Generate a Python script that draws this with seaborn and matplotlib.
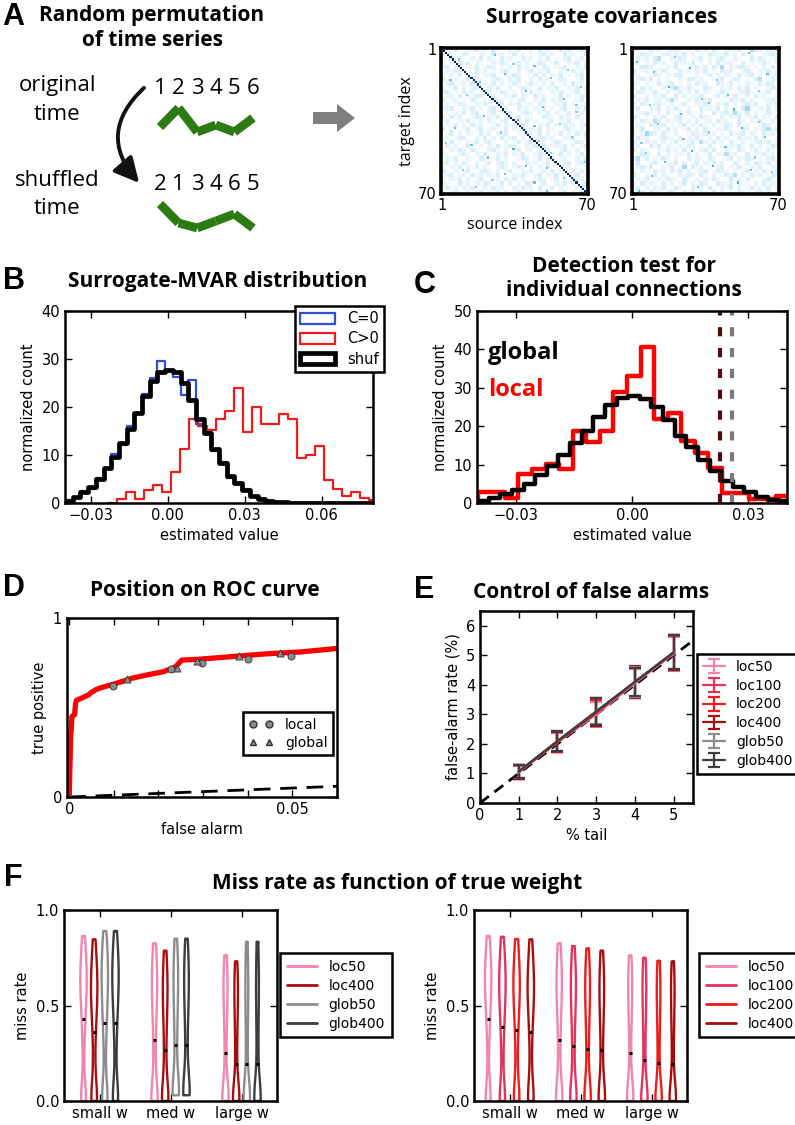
import numpy as np
import pandas as pd
import matplotlib
matplotlib.use('Agg')
import matplotlib.pyplot as plt
import seaborn as sns
from matplotlib.patches import FancyArrowPatch, FancyArrow, Patch
from matplotlib.lines import Line2D
from matplotlib.colors import LinearSegmentedColormap

# ---------------------------------------------------------------- data
# Panel A: toy time series
time_points = [1, 2, 3, 4, 5, 6]
series_values = [5, 24, 0, 7, 0, 14]
shuffled_order = [2, 1, 3, 4, 6, 5]

# Panel A: surrogate covariance matrices (35x35 coarse levels) + specks on the 70x70 grid
cov_orig_rows = [
    "12030021312031002130120312003120132", "30201320021031201302010231200312013",
    "01312002130210312003120213010230120", "20103130210021320130201320130021302",
    "13020021301320102031201032012300213", "02131200312010231020130213002103120",
    "10203021301230021320103120213010231", "31020130210023102130020312013200130",
    "02301213002130201320131020301203120", "10130202310213002013210302130021302",
    "23010312002301320102031200213102301", "01203021330120021302103120013020132",
    "30120103102031201023002130213100230", "02013200213102302130120310021302012",
    "12300213010230120031202130102300213", "01021302300130213002310213020130121",
    "20312001320213002130210032103120301", "13002131020310230120312001302130020",
    "02130203120013021203100213020312013", "30210130230120030213021302100231020",
    "01302021031202130010321302013020313", "12013300213020312302010231200213002",
    "20301021302310020130231020132001320", "03120130020213013200213030121302013",
    "10213203100231020130120213002310201", "21002310213002130213001320213020130",
    "02130021032013020013201302301200213", "13020310201302310200312013020130231",
    "00213021302001320131020213003120102", "31020130023102013002130120312003120",
    "02301203120213000213102302130210301", "10213020130012031302001320130203120",
    "21003120213201302010320130021302013", "03120213002031200213120301302010230",
    "10231020130213020130020213012302130",
]
cov_shuf_rows = [
    "21003120132201031203102213005320213", "10321002312130201032113020312001231",
    "03120350021320113020231021003132012", "22010312003121301020312210302013102",
    "01332010213002131203160213320102031", "30120213100312021301032200131021302",
    "12001320213310020131202103123010213", "02313020100213312002130132010350121",
    "21020131230102031200321301021031320", "10312002135213100321021203130200132",
    "03201310201312030210132001231021301", "31020213003120213101302031020312002",
    "02130120352002131230010321302001231", "20310231020130021320213010231300213",
    "13002130213102003121302010361021302", "01231020310213102003123152130201310",
    "32010213002310213210030213012302103", "10320530211302030120312003102131020",
    "02103213010230213102013203120013201", "21300120312013020310213100320213513",
    "10263203102001321302010312302103120", "03120013210302131020312003121302001",
    "21031202013102305213120310201231302", "12003130210213201031020213103020132",
    "30210021312030102313002103201310210", "01321030201213020130215120030213120",
    "25130213102003121032001302132010231", "13002310213020130213120031020321302",
    "02313002130160312010230213102130021", "10200312031302012301321020130213103",
    "31021302100213203102013250203120132", "02130021321031020213100312031002310",
    "20312103020130213200321302110203121", "13020213013200312031021302013120302",
    "01203120231021302103020013210231200",
]
cov_orig_specks = [(3, 25, 8), (5, 8, 7), (8, 44, 8), (10, 60, 7), (12, 30, 8), (14, 52, 7),
                   (16, 18, 8), (18, 66, 7), (20, 40, 9), (22, 12, 7), (24, 58, 8), (26, 26, 7),
                   (28, 48, 8), (30, 64, 7), (32, 20, 8), (34, 36, 9), (36, 56, 7), (38, 6, 8),
                   (40, 28, 7), (42, 62, 8), (44, 46, 7), (46, 14, 8), (48, 34, 9), (50, 52, 7),
                   (52, 22, 8), (54, 68, 7), (56, 40, 8), (58, 10, 7), (60, 30, 8), (62, 58, 7),
                   (64, 44, 8), (66, 16, 7), (68, 50, 8), (7, 34, 7), (15, 4, 8), (27, 64, 7),
                   (37, 44, 8), (45, 2, 7), (57, 50, 8), (63, 24, 7)]
cov_shuf_specks = [(6, 2, 8), (9, 27, 9), (12, 64, 8), (15, 40, 7), (18, 17, 9), (20, 60, 7),
                   (24, 33, 8), (27, 8, 7), (29, 48, 9), (31, 23, 8), (33, 69, 7), (36, 12, 8),
                   (38, 52, 9), (40, 36, 7), (42, 63, 8), (45, 4, 7), (47, 44, 8), (49, 28, 9),
                   (52, 58, 7), (54, 15, 8), (56, 38, 9), (59, 66, 7), (61, 9, 8), (64, 50, 9),
                   (66, 31, 7), (68, 3, 8), (69, 46, 7), (2, 55, 8), (4, 20, 7), (11, 10, 8),
                   (22, 45, 8), (35, 60, 7), (43, 24, 8), (50, 6, 7), (58, 56, 8), (26, 36, 8)]
cov_diag_level = 15
matrix_ticklabels = ['1', '70']

# Panel B: histograms (normalized counts)
null_bin_start, null_bin_width = -0.04, 0.003
shuf_counts = [0.5, 1.2, 2.3, 3.3, 4.9, 7.3, 9.6, 12.5, 15.5, 18.8, 22.3, 25.5, 27.3, 27.8,
               27.2, 25.0, 21.5, 17.5, 14.5, 11.3, 8.3, 5.6, 4.2, 2.8, 1.5, 0.9, 0.5, 0.3,
               0.15, 0.1, 0.05, 0.03, 0.02, 0.01, 0.0, 0.0, 0.0, 0.0, 0.0, 0.0]
c0_counts = [0.6, 1.0, 2.6, 3.0, 5.3, 7.0, 10.2, 12.0, 16.0, 18.5, 22.8, 26.0, 29.6, 27.6,
             26.2, 22.6, 25.6, 16.5, 14.8, 10.8, 8.6, 5.3, 4.0, 3.0, 1.4, 0.9, 0.4, 0.2,
             0.1, 0.05, 0.0, 0.0, 0.0, 0.0, 0.0, 0.0, 0.0, 0.0, 0.0, 0.0]
cpos_bin_start, cpos_bin_width = -0.0232, 0.0035
cpos_counts = [0.0, 0.9, 2.2, 0.9, 2.8, 3.7, 2.2, 6.5, 11.2, 17.6, 16.0, 15.2, 17.4, 19.2,
               24.0, 14.7, 19.9, 16.4, 16.4, 18.6, 17.6, 9.4, 10.1, 11.9, 4.8, 3.0, 1.5,
               2.2, 1.1, 0.6]
b_xticks = [-0.03, 0.0, 0.03, 0.06]
b_xticklabels = ['\u22120.03', '0.00', '0.03', '0.06']
b_yticks = [0, 10, 20, 30, 40]

# Panel C
local_bin_start, local_bin_width = -0.0433, 0.0035
local_counts = [1.4, 2.9, 2.9, 1.4, 7.5, 8.8, 10.1, 8.8, 18.8, 15.9, 18.8, 28.9, 33.1,
                40.5, 21.8, 23.5, 16.1, 13.1, 9.2, 2.7, 2.7, 1.1, 1.1, 1.8]
thresh_local = 0.0228
thresh_global = 0.0258
c_xticks = [-0.03, 0.0, 0.03]
c_xticklabels = ['\u22120.03', '0.00', '0.03']
c_yticks = [0, 10, 20, 30, 40, 50]

# Panel D: ROC
roc_fa = [0, 0.0003, 0.0004, 0.0005, 0.0006, 0.0012, 0.0014, 0.0016, 0.0030, 0.0043, 0.0050,
          0.0060, 0.0070, 0.0099, 0.0143, 0.0180, 0.0211, 0.0237, 0.0245, 0.0252, 0.0293,
          0.0368, 0.0442, 0.0517, 0.0600]
roc_tp = [0, 0.34, 0.36, 0.40, 0.45, 0.46, 0.52, 0.54, 0.555, 0.57, 0.585, 0.60, 0.61, 0.63,
          0.665, 0.685, 0.70, 0.725, 0.745, 0.765, 0.77, 0.785, 0.80, 0.81, 0.83]
chance_fa = [0, 0.06]
chance_tp = [0, 0.06]
local_fa = [0.0099, 0.0227, 0.0297, 0.0401, 0.0496]
local_tp = [0.619, 0.713, 0.750, 0.769, 0.788]
global_fa = [0.0129, 0.0242, 0.0287, 0.0381, 0.0472]
global_tp = [0.662, 0.719, 0.762, 0.788, 0.803]
d_xticks = [0, 0.01, 0.02, 0.03, 0.04, 0.05, 0.06]
d_xticklabels = ['0', '', '', '', '', '0.05', '']

# Panel E: false-alarm control
tail_pct = [1, 2, 3, 4, 5]
e_methods = ['loc50', 'loc100', 'loc200', 'loc400', 'glob50', 'glob400']
fa_rate = {
    'loc50':   [1.04, 2.05, 3.00, 4.05, 5.05],
    'loc100':  [1.05, 2.06, 3.04, 4.08, 5.07],
    'loc200':  [1.05, 2.07, 3.05, 4.10, 5.09],
    'loc400':  [1.06, 2.07, 3.08, 4.10, 5.10],
    'glob50':  [1.06, 2.10, 3.10, 4.10, 5.10],
    'glob400': [1.07, 2.10, 3.10, 4.10, 5.10],
}
fa_err = {
    'loc50':   [0.22, 0.33, 0.42, 0.50, 0.57],
    'loc100':  [0.23, 0.34, 0.44, 0.52, 0.58],
    'loc200':  [0.24, 0.35, 0.45, 0.52, 0.60],
    'loc400':  [0.24, 0.35, 0.46, 0.53, 0.60],
    'glob50':  [0.23, 0.33, 0.44, 0.50, 0.58],
    'glob400': [0.23, 0.33, 0.45, 0.48, 0.58],
}
identity_x = [0, 5.5]
identity_y = [0, 5.5]

# Panel F: miss rates
weight_cats = ['small w', 'med w', 'large w']
miss_samples = {
    ('loc50', 'small w'):   [0, 0, 0, 0.02, 0.30, 0.42, 0.50, 0.55, 0.60, 0.64, 0.68, 0.72, 0.78, 0.864],
    ('loc100', 'small w'):  [0, 0, 0, 0.02, 0.25, 0.38, 0.46, 0.52, 0.57, 0.62, 0.66, 0.71, 0.77, 0.860],
    ('loc200', 'small w'):  [0, 0, 0, 0.03, 0.22, 0.36, 0.45, 0.51, 0.56, 0.61, 0.65, 0.70, 0.76, 0.848],
    ('loc400', 'small w'):  [0, 0, 0, 0.03, 0.20, 0.35, 0.44, 0.50, 0.55, 0.60, 0.64, 0.69, 0.75, 0.846],
    ('glob50', 'small w'):  [0, 0, 0, 0.05, 0.28, 0.40, 0.48, 0.54, 0.60, 0.65, 0.70, 0.75, 0.80, 0.890],
    ('glob400', 'small w'): [0, 0, 0, 0.04, 0.27, 0.40, 0.49, 0.55, 0.60, 0.65, 0.70, 0.74, 0.80, 0.890],
    ('loc50', 'med w'):     [0, 0, 0, 0, 0.02, 0.20, 0.35, 0.45, 0.52, 0.58, 0.63, 0.68, 0.74, 0.825],
    ('loc100', 'med w'):    [0, 0, 0, 0, 0.02, 0.18, 0.32, 0.42, 0.50, 0.56, 0.61, 0.66, 0.72, 0.811],
    ('loc200', 'med w'):    [0, 0, 0, 0, 0.03, 0.16, 0.30, 0.40, 0.48, 0.54, 0.60, 0.65, 0.71, 0.799],
    ('loc400', 'med w'):    [0, 0, 0, 0, 0.03, 0.15, 0.28, 0.39, 0.47, 0.53, 0.59, 0.64, 0.70, 0.787],
    ('glob50', 'med w'):    [0.03, 0.03, 0.03, 0.04, 0.06, 0.20, 0.33, 0.43, 0.51, 0.58, 0.64, 0.70, 0.76, 0.850],
    ('glob400', 'med w'):   [0.03, 0.03, 0.03, 0.04, 0.06, 0.19, 0.33, 0.44, 0.52, 0.58, 0.64, 0.70, 0.76, 0.850],
    ('loc50', 'large w'):   [0, 0, 0, 0, 0, 0.03, 0.20, 0.35, 0.45, 0.52, 0.58, 0.63, 0.69, 0.762],
    ('loc100', 'large w'):  [0, 0, 0, 0, 0, 0.03, 0.18, 0.32, 0.42, 0.50, 0.56, 0.62, 0.68, 0.750],
    ('loc200', 'large w'):  [0, 0, 0, 0, 0, 0.03, 0.16, 0.30, 0.40, 0.48, 0.55, 0.60, 0.67, 0.734],
    ('loc400', 'large w'):  [0, 0, 0, 0, 0, 0.03, 0.15, 0.29, 0.39, 0.47, 0.54, 0.60, 0.66, 0.731],
    ('glob50', 'large w'):  [0, 0, 0, 0, 0, 0.02, 0.10, 0.25, 0.38, 0.48, 0.56, 0.64, 0.72, 0.834],
    ('glob400', 'large w'): [0, 0, 0, 0, 0, 0.02, 0.10, 0.24, 0.37, 0.48, 0.56, 0.64, 0.72, 0.834],
}
mean_miss = {
    'loc50':   [0.430, 0.318, 0.252],
    'loc100':  [0.388, 0.290, 0.217],
    'loc200':  [0.374, 0.274, 0.200],
    'loc400':  [0.360, 0.266, 0.192],
    'glob50':  [0.410, 0.292, 0.196],
    'glob400': [0.410, 0.292, 0.196],
}
f_left_methods = ['loc50', 'loc400', 'glob50', 'glob400']
f_right_methods = ['loc50', 'loc100', 'loc200', 'loc400']

colors = {'loc50': '#f184b0', 'loc100': '#e5335c', 'loc200': '#ee1c1c',
          'loc400': '#a80d0d', 'glob50': '#8c8c8c', 'glob400': '#3d3d3d'}
cov_cmap = LinearSegmentedColormap.from_list(
    'cov', ['#ffffff', '#d9eef9', '#a9d6f0', '#55a9dc', '#1e64b4', '#0a2566'])

# ---------------------------------------------------------------- style
sns.set_style('ticks')
plt.rcParams.update({
    'font.family': ['DejaVu Sans'],
    'xtick.direction': 'in', 'ytick.direction': 'in',
    'xtick.top': True, 'ytick.right': True,
    'xtick.major.size': 5, 'ytick.major.size': 5,
    'xtick.major.width': 1.0, 'ytick.major.width': 1.0,
    'axes.linewidth': 1.8, 'axes.edgecolor': 'black',
    'xtick.labelsize': 10.5, 'ytick.labelsize': 10.5,
    'axes.labelsize': 10.5, 'legend.fontsize': 10,
    'xtick.color': 'black', 'ytick.color': 'black',
    'axes.labelcolor': 'black', 'text.color': 'black',
    'legend.fancybox': False, 'legend.edgecolor': 'black', 'legend.framealpha': 1,
})
TITLE_FONT = dict(fontfamily='Open Sans', fontweight='bold', fontsize=15)
LETTER_FONT = dict(fontfamily='Liberation Sans', fontweight='bold', fontsize=22)

W, H = 795, 1125
fig = plt.figure(figsize=(W / 100, H / 100), dpi=100)


def px_axes(x0, y0, x1, y1, **kw):
    return fig.add_axes([x0 / W, 1 - y1 / H, (x1 - x0) / W, (y1 - y0) / H], **kw)


ov = fig.add_axes([0, 0, 1, 1])
ov.set_xlim(0, W)
ov.set_ylim(H, 0)
ov.axis('off')

# ---------------------------------------------------------------- panel A (left)
ov.text(13, 17, 'A', ha='center', va='center', **LETTER_FONT)
ov.text(152, 15, 'Random permutation', ha='center', va='center', **TITLE_FONT)
ov.text(152, 40, 'of time series', ha='center', va='center', **TITLE_FONT)
for txt, y in [('original', 86), ('time', 114), ('shuffled', 181), ('time', 209)]:
    ov.text(57, y, txt, ha='center', va='center', fontfamily='Open Sans', fontsize=16)

green = '#2b7a12'
shuffled_values = [series_values[k - 1] for k in shuffled_order]
for top_px, vals, labels in [(82, series_values, time_points),
                             (178, shuffled_values, shuffled_order)]:
    axs = px_axes(150.7, top_px, 262.3, top_px + 58)
    axs.set_xlim(0.5, 6.5)
    axs.set_ylim(-8, 50)
    axs.axis('off')
    for i in range(len(time_points) - 1):
        axs.plot(time_points[i:i + 2], vals[i:i + 2], color=green, lw=6.3,
                 solid_capstyle='butt')
    for t, lab in zip(time_points, labels):
        axs.text(t, 43, str(lab), ha='center', va='center', fontfamily='Open Sans',
                 fontsize=16)

ov.add_patch(FancyArrowPatch((146, 86), (141, 185), connectionstyle='arc3,rad=0.5',
                             arrowstyle='-|>,head_length=0.75,head_width=0.38',
                             mutation_scale=20, lw=2.8, color='#111111'))
ov.add_patch(FancyArrow(313, 118, 42, 0, width=12, head_width=28, head_length=18,
                        length_includes_head=True, color='#7f7f7f', lw=0))

# ---------------------------------------------------------------- panel A (matrices)
ov.text(602, 17, 'Surrogate covariances', ha='center', va='center', **TITLE_FONT)


def build_matrix(rows, specks, diag=None):
    grid = np.array([[int(ch) for ch in (r + '1' * 35)[:35]] for r in rows], dtype=float)
    m = np.kron(grid, np.ones((2, 2)))
    for r, c, v in specks:
        m[r, c] = v
    if diag is not None:
        np.fill_diagonal(m, diag)
    return m


mats = [build_matrix(cov_orig_rows, cov_orig_specks, cov_diag_level),
        build_matrix(cov_shuf_rows, cov_shuf_specks)]
for i, (x0, m) in enumerate(zip([441, 632], mats)):
    ax = px_axes(x0, 48, x0 + 147, 194)
    sns.heatmap(m, ax=ax, cmap=cov_cmap, vmin=0, vmax=15, cbar=False,
                xticklabels=False, yticklabels=False)
    n = m.shape[0]
    ax.set_xticks([0.5, n - 0.5])
    ax.set_xticklabels(matrix_ticklabels, fontsize=10.5)
    ax.set_yticks([0.5, n - 0.5])
    ax.set_yticklabels(matrix_ticklabels, fontsize=10.5, rotation=0)
    ax.tick_params(length=0, pad=3, top=False, right=False)
    for s in ax.spines.values():
        s.set_visible(True)
        s.set_linewidth(2.6)
    if i == 0:
        ax.set_ylabel('target index', fontfamily='Open Sans', fontsize=11.5, labelpad=2)
        ax.set_xlabel('source index', fontfamily='Open Sans', fontsize=11.5, labelpad=3)
    else:
        ax.set_xlabel('')
        ax.set_ylabel('')


def step_hist(ax, start, width, counts, color, lw):
    edges = [start + width * k for k in range(len(counts) + 1)]
    centers = [e + width / 2 for e in edges[:-1]]
    d = pd.DataFrame({'value': centers, 'count': counts})
    sns.histplot(data=d, x='value', weights='count', bins=edges, element='step',
                 fill=False, color=color, linewidth=lw, ax=ax)


# ---------------------------------------------------------------- panel B
ov.text(14, 281, 'B', ha='center', va='center', **LETTER_FONT)
ov.text(218, 282, 'Surrogate-MVAR distribution', ha='center', va='center', **TITLE_FONT)
axB = px_axes(65, 311, 373, 503)
blue = '#2f4fd8'
red = '#ee1c1c'
step_hist(axB, null_bin_start, null_bin_width, c0_counts, blue, 1.6)
step_hist(axB, cpos_bin_start, cpos_bin_width, cpos_counts, red, 1.6)
step_hist(axB, null_bin_start, null_bin_width, shuf_counts, 'black', 3.4)
axB.set_xlim(-0.04, 0.08)
axB.set_ylim(0, 40)
axB.set_xticks(b_xticks)
axB.set_xticklabels(b_xticklabels)
axB.set_yticks(b_yticks)
axB.set_xlabel('estimated value')
axB.set_ylabel('normalized count')
legB = axB.legend(handles=[Patch(facecolor='none', edgecolor=blue, lw=1.6),
                           Patch(facecolor='none', edgecolor=red, lw=1.6),
                           Patch(facecolor='none', edgecolor='black', lw=3.4)],
                  labels=['C=0', 'C>0', 'shuf'], loc='upper right',
                  bbox_to_anchor=(1.035, 1.025), borderaxespad=0, handlelength=2.4,
                  handleheight=0.8, fontsize=10.5, borderpad=0.35, labelspacing=0.35)
legB.get_frame().set_linewidth(1.8)

# ---------------------------------------------------------------- panel C
ov.text(425, 285, 'C', ha='center', va='center', **LETTER_FONT)
ov.text(624, 267, 'Detection test for', ha='center', va='center', **TITLE_FONT)
ov.text(624, 291, 'individual connections', ha='center', va='center', **TITLE_FONT)
axC = px_axes(477, 311, 787, 503)
step_hist(axC, local_bin_start, local_bin_width, local_counts, 'red', 3.2)
step_hist(axC, null_bin_start, null_bin_width, shuf_counts, 'black', 3.2)
axC.axvline(thresh_local, color='#4a0c0c', lw=3, ls=(0, (2.2, 2.8)))
axC.axvline(thresh_global, color='#7a7a7a', lw=3, ls=(0, (2.2, 2.8)))
axC.set_xlim(-0.04, 0.04)
axC.set_ylim(0, 50)
axC.set_xticks(c_xticks)
axC.set_xticklabels(c_xticklabels)
axC.set_yticks(c_yticks)
axC.set_xlabel('estimated value')
axC.set_ylabel('normalized count')
axC.text(0.035, 0.78, 'global', transform=axC.transAxes, color='black', fontsize=17,
         fontfamily='Open Sans', fontweight='bold', va='center')
axC.text(0.035, 0.59, 'local', transform=axC.transAxes, color='red', fontsize=17,
         fontfamily='Open Sans', fontweight='bold', va='center')

# ---------------------------------------------------------------- panel D
ov.text(14, 588, 'D', ha='center', va='center', **LETTER_FONT)
ov.text(205, 590, 'Position on ROC curve', ha='center', va='center', **TITLE_FONT)
axD = px_axes(67, 618, 337, 797)
axD.plot(chance_fa, chance_tp, color='black', lw=2, ls=(0, (6, 3.5)))
sns.lineplot(x=roc_fa, y=roc_tp, sort=False, estimator=None, color='red', lw=3.8, ax=axD)
sns.scatterplot(x=local_fa, y=local_tp, marker='o', color='#8a8a8a', edgecolor='#333333',
                s=26, linewidth=0.6, zorder=5, ax=axD)
sns.scatterplot(x=global_fa, y=global_tp, marker='^', color='#8a8a8a', edgecolor='#333333',
                s=26, linewidth=0.6, zorder=5, ax=axD)
axD.set_xlim(-0.0005, 0.06)
axD.set_ylim(0, 1)
axD.set_xticks(d_xticks)
axD.set_xticklabels(d_xticklabels)
axD.set_yticks([0, 1])
axD.set_yticklabels(['0', '1'])
axD.set_xlabel('false alarm')
axD.set_ylabel('true positive')
legD = axD.legend(handles=[Line2D([], [], ls='', marker='o', mfc='#8a8a8a', mec='#333333', ms=5),
                           Line2D([], [], ls='', marker='^', mfc='#8a8a8a', mec='#333333', ms=5)],
                  labels=['local', 'global'], numpoints=2, loc='upper right',
                  bbox_to_anchor=(0.985, 0.475), borderaxespad=0, fontsize=10,
                  handlelength=1.8, borderpad=0.4, labelspacing=0.3)
legD.get_frame().set_linewidth(1.8)

# ---------------------------------------------------------------- panel E
ov.text(424, 590, 'E', ha='center', va='center', **LETTER_FONT)
ov.text(591, 592, 'Control of false alarms', ha='center', va='center', **TITLE_FONT)
axE = px_axes(480, 611, 693, 803)
axE.plot(identity_x, identity_y, color='black', lw=2, ls=(0, (4, 2.5)), zorder=1)
handlesE = []
for m in e_methods:
    h = axE.errorbar(tail_pct, fa_rate[m], yerr=fa_err[m], color=colors[m], lw=1.6,
                     capsize=4.5, capthick=1.6, zorder=2)
    handlesE.append(h)
axE.set_xlim(0, 5.5)
axE.set_ylim(0, 6.5)
axE.set_xticks([0, 1, 2, 3, 4, 5])
axE.set_yticks([0, 1, 2, 3, 4, 5, 6])
axE.set_xlabel('% tail')
axE.set_ylabel('false-alarm rate (%)')
legE = axE.legend(handlesE, e_methods, loc='upper left', bbox_to_anchor=(1.02, 0.775),
                  borderaxespad=0, fontsize=10, handlelength=1.6, borderpad=0.4,
                  labelspacing=0.35)
legE.get_frame().set_linewidth(1.8)

# ---------------------------------------------------------------- panel F
ov.text(13, 878, 'F', ha='center', va='center', **LETTER_FONT)
ov.text(397, 883, 'Miss rate as function of true weight', ha='center', va='center',
        **TITLE_FONT)

records = []
for (m, w), vals in miss_samples.items():
    for v in vals:
        records.append({'method': m, 'weight': w, 'miss': v})
df_miss = pd.DataFrame(records)


def violin_panel(ax, methods, width, gap, leg_anchor):
    sub = df_miss[df_miss['method'].isin(methods)]
    sns.violinplot(data=sub, x='weight', y='miss', hue='method', order=weight_cats,
                   hue_order=methods, palette={m: colors[m] for m in methods},
                   fill=False, cut=0, inner=None, density_norm='width', width=width,
                   gap=gap, linewidth=1.7, bw_adjust=0.55, legend=False, ax=ax)
    n = len(methods)
    for hi, m in enumerate(methods):
        for ci, w in enumerate(weight_cats):
            xc = ci + (hi - (n - 1) / 2) * width / n
            ax.hlines(mean_miss[m][ci], xc - 0.022, xc + 0.022, color='black', lw=2.2,
                      zorder=5)
            ax.hlines(max(miss_samples[(m, w)]), xc - 0.015, xc + 0.015, color=colors[m],
                      lw=1.8, zorder=4)
    ax.set_xlim(-0.5, 2.5)
    ax.set_ylim(0, 1)
    ax.set_yticks([0, 0.5, 1.0])
    ax.set_yticklabels(['0.0', '0.5', '1.0'])
    ax.set_xlabel('')
    ax.set_ylabel('miss rate')
    leg = ax.legend(handles=[Line2D([0], [0], color=colors[m], lw=2) for m in methods],
                    labels=methods, loc='upper left', bbox_to_anchor=leg_anchor,
                    borderaxespad=0, fontsize=10, handlelength=2.2, borderpad=0.5,
                    labelspacing=0.35)
    leg.get_frame().set_linewidth(1.8)


axF1 = px_axes(64, 910, 277, 1101)
violin_panel(axF1, f_left_methods, 0.6, 0.4, (1.014, 0.775))
axF2 = px_axes(474, 910, 687, 1101)
violin_panel(axF2, f_right_methods, 0.8, 0.55, (1.056, 0.775))

fig.savefig('out.png', dpi=100)
